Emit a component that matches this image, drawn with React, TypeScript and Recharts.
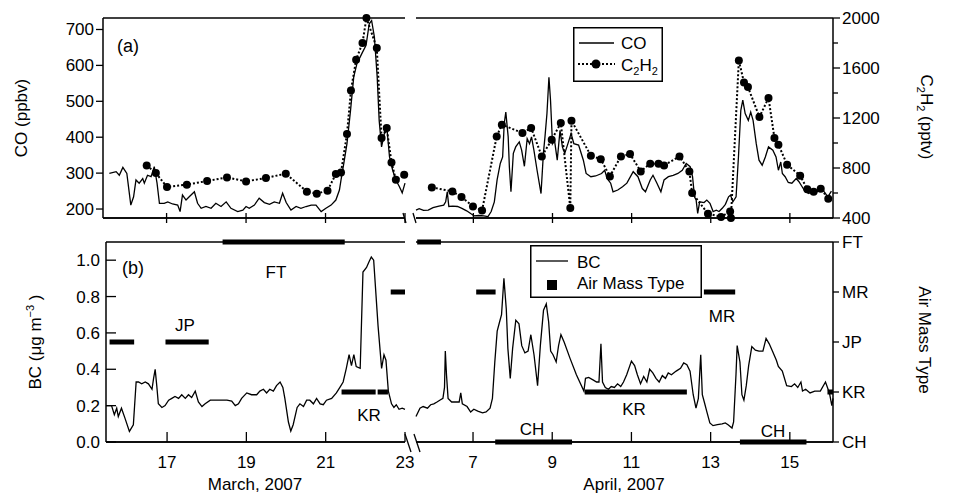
import { ComposedChart, Line, XAxis, YAxis, Legend, CartesianGrid } from 'recharts';

const FONT = '"Liberation Sans", Arial, Helvetica, sans-serif';
const W = 964;
const H = 495;
const ink = '#000';

// ---- (a) CO, ppbv: [day of month, value] ----
const coMarch: [number, number][] = [
  [15.56, 299], [15.73, 304], [15.81, 294], [15.9, 316], [16.0, 299], [16.1, 211], [16.17, 234], [16.23, 281],
  [16.31, 272], [16.4, 285], [16.44, 272], [16.52, 294], [16.61, 290], [16.69, 318], [16.76, 272], [16.82, 216],
  [16.94, 216], [17.03, 220], [17.15, 214], [17.28, 211], [17.34, 193], [17.4, 239], [17.49, 225], [17.57, 234],
  [17.7, 248], [17.78, 216], [17.87, 202], [17.99, 207], [18.12, 202], [18.24, 216], [18.37, 207], [18.5, 220],
  [18.62, 202], [18.79, 193], [18.92, 197], [19.0, 207], [19.08, 202], [19.21, 211], [19.33, 230], [19.46, 218],
  [19.59, 213], [19.71, 220], [19.84, 216], [19.92, 244], [20.01, 218], [20.13, 197], [20.26, 207], [20.38, 202],
  [20.51, 207], [20.64, 211], [20.76, 211], [20.89, 193], [21.01, 202], [21.14, 211], [21.26, 225], [21.35, 253],
  [21.39, 281], [21.46, 327], [21.54, 382], [21.63, 475], [21.71, 568], [21.79, 605], [21.91, 632], [22.02, 656],
  [22.1, 716], [22.16, 725], [22.23, 679], [22.3, 568], [22.35, 447], [22.41, 373], [22.48, 410], [22.55, 419],
  [22.61, 345], [22.69, 308], [22.77, 281], [22.86, 262], [22.93, 245], [23.0, 272],
];

const coApril: [number, number][] = [
  [5.55, 197], [5.63, 201], [5.74, 196], [5.86, 197], [5.98, 204], [6.13, 208], [6.25, 211], [6.3, 220],
  [6.34, 248], [6.38, 207], [6.48, 208], [6.6, 207], [6.71, 202], [6.83, 195], [6.95, 186], [7.02, 181],
  [7.14, 182], [7.26, 181], [7.37, 179], [7.45, 193], [7.53, 220], [7.6, 281], [7.68, 327], [7.74, 345],
  [7.78, 438], [7.82, 470], [7.88, 401], [7.91, 317], [7.95, 248], [8.01, 355], [8.07, 373], [8.16, 387],
  [8.22, 364], [8.29, 319], [8.36, 396], [8.42, 382], [8.47, 401], [8.53, 364], [8.61, 308], [8.71, 243],
  [8.77, 355], [8.81, 401], [8.86, 466], [8.91, 567], [8.95, 503], [9.0, 382], [9.05, 392], [9.12, 336],
  [9.19, 419], [9.25, 373], [9.31, 355], [9.39, 382], [9.47, 410], [9.54, 382], [9.66, 378], [9.78, 336],
  [9.85, 299], [9.97, 290], [10.09, 292], [10.24, 299], [10.32, 308], [10.38, 285], [10.47, 272], [10.53, 248],
  [10.65, 253], [10.77, 262], [10.88, 272], [11.04, 304], [11.16, 290], [11.27, 257], [11.35, 248], [11.47, 281],
  [11.54, 294], [11.64, 272], [11.74, 248], [11.82, 281], [11.93, 290], [12.05, 294], [12.17, 299], [12.28, 308],
  [12.38, 327], [12.48, 318], [12.54, 290], [12.59, 234], [12.63, 225], [12.67, 188], [12.72, 220], [12.83, 218],
  [12.9, 225], [12.98, 216], [13.06, 193], [13.14, 197], [13.21, 193], [13.29, 202], [13.37, 213], [13.45, 234],
  [13.5, 239], [13.56, 220], [13.64, 234], [13.7, 345], [13.76, 475], [13.81, 503], [13.87, 466], [13.95, 447],
  [14.01, 470], [14.07, 447], [14.15, 382], [14.22, 336], [14.3, 322], [14.38, 345], [14.46, 373], [14.57, 364],
  [14.65, 345], [14.71, 308], [14.77, 331], [14.81, 299], [14.88, 290], [14.96, 274], [15.05, 272], [15.16, 285],
  [15.23, 276], [15.31, 262], [15.39, 248], [15.48, 243], [15.56, 250], [15.66, 244], [15.79, 262], [15.87, 248],
  [15.96, 234], [16.05, 250],
];

// ---- (a) C2H2, pptv ----
const c2h2March: [number, number][] = [
  [16.5, 821], [16.73, 760], [17.01, 648], [17.51, 667], [18.02, 696], [18.52, 725], [19.0, 693], [19.5, 720],
  [20.0, 755], [20.53, 611], [20.78, 595], [21.05, 619], [21.26, 752], [21.39, 765], [21.54, 1072], [21.64, 1421],
  [21.77, 1667], [21.93, 1800], [22.03, 2000], [22.29, 1760], [22.41, 1040], [22.54, 1120], [22.66, 845],
  [22.77, 707], [22.98, 747],
];

const c2h2April: [number, number][] = [
  [5.95, 645], [6.47, 613], [6.7, 568], [6.99, 493], [7.22, 461], [7.59, 1053], [7.72, 1147], [8.24, 1080],
  [8.46, 1120], [8.73, 893], [8.98, 1027], [9.21, 1160], [9.45, 480], [9.48, 1179], [9.97, 899], [10.22, 870],
  [10.45, 733], [10.73, 893], [10.96, 912], [11.23, 773], [11.47, 835], [11.68, 835], [11.82, 821], [12.21, 893],
  [12.46, 773], [12.53, 600], [12.93, 435], [13.26, 408], [13.49, 453], [13.51, 400], [13.71, 1661], [13.84, 1485],
  [13.94, 1448], [14.23, 1208], [14.46, 1360], [14.61, 1040], [14.71, 987], [14.93, 827], [15.26, 739],
  [15.44, 630], [15.6, 610], [15.78, 635], [15.97, 555],
];

// ---- (b) BC, ug m-3 ----
const bcMarch: [number, number][] = [
  [15.46, 0.2], [15.6, 0.2], [15.67, 0.15], [15.73, 0.186], [15.77, 0.14], [15.85, 0.186], [15.94, 0.13],
  [16.05, 0.058], [16.15, 0.095], [16.22, 0.33], [16.28, 0.33], [16.36, 0.32], [16.45, 0.33], [16.53, 0.32],
  [16.62, 0.29], [16.66, 0.35], [16.7, 0.4], [16.74, 0.31], [16.78, 0.21], [16.87, 0.19], [16.95, 0.2],
  [17.04, 0.23], [17.12, 0.24], [17.2, 0.25], [17.29, 0.24], [17.37, 0.26], [17.46, 0.24], [17.54, 0.26],
  [17.62, 0.245], [17.71, 0.28], [17.79, 0.22], [17.88, 0.195], [17.96, 0.21], [18.09, 0.23], [18.22, 0.23],
  [18.34, 0.23], [18.51, 0.23], [18.63, 0.225], [18.72, 0.2], [18.8, 0.21], [18.88, 0.24], [19.01, 0.27],
  [19.13, 0.26], [19.26, 0.26], [19.34, 0.28], [19.43, 0.29], [19.51, 0.27], [19.59, 0.29], [19.68, 0.28],
  [19.76, 0.31], [19.85, 0.33], [19.92, 0.3], [19.97, 0.24], [20.06, 0.11], [20.12, 0.06], [20.18, 0.095],
  [20.28, 0.19], [20.35, 0.21], [20.44, 0.195], [20.52, 0.23], [20.6, 0.23], [20.69, 0.21], [20.77, 0.24],
  [20.86, 0.21], [20.94, 0.205], [21.02, 0.23], [21.15, 0.24], [21.27, 0.27], [21.37, 0.305], [21.44, 0.33],
  [21.52, 0.405], [21.59, 0.48], [21.65, 0.42], [21.71, 0.48], [21.77, 0.415], [21.87, 0.405], [21.94, 0.935],
  [22.03, 0.96], [22.09, 0.99], [22.15, 1.017], [22.21, 1.0], [22.32, 0.64], [22.41, 0.405], [22.47, 0.48],
  [22.52, 0.45], [22.58, 0.28], [22.66, 0.21], [22.72, 0.19], [22.78, 0.205], [22.85, 0.18], [22.93, 0.186],
  [23.0, 0.18],
];

const bcApril: [number, number][] = [
  [5.56, 0.14], [5.66, 0.186], [5.74, 0.195], [5.85, 0.186], [5.93, 0.205], [6.01, 0.21], [6.09, 0.22],
  [6.16, 0.23], [6.24, 0.24], [6.28, 0.3], [6.3, 0.5], [6.33, 0.37], [6.37, 0.24], [6.46, 0.22], [6.6, 0.22],
  [6.65, 0.22], [6.69, 0.27], [6.73, 0.21], [6.85, 0.195], [6.94, 0.165], [7.02, 0.18], [7.12, 0.17],
  [7.24, 0.16], [7.33, 0.165], [7.43, 0.186], [7.49, 0.24], [7.55, 0.44], [7.61, 0.61], [7.67, 0.66],
  [7.72, 0.7], [7.78, 0.9], [7.84, 0.73], [7.88, 0.515], [7.94, 0.35], [8.0, 0.515], [8.08, 0.67], [8.16, 0.65],
  [8.23, 0.53], [8.31, 0.49], [8.39, 0.5], [8.46, 0.59], [8.54, 0.48], [8.63, 0.31], [8.7, 0.53], [8.78, 0.725],
  [8.85, 0.76], [8.91, 0.66], [8.96, 0.5], [9.02, 0.48], [9.1, 0.44], [9.16, 0.53], [9.22, 0.59], [9.3, 0.55],
  [9.45, 0.46], [9.61, 0.37], [9.8, 0.28], [9.84, 0.35], [9.92, 0.355], [10.04, 0.34], [10.12, 0.33],
  [10.18, 0.33], [10.23, 0.54], [10.27, 0.33], [10.34, 0.3], [10.42, 0.29], [10.49, 0.305], [10.57, 0.3],
  [10.65, 0.32], [10.73, 0.305], [10.8, 0.33], [10.88, 0.37], [11.0, 0.445], [11.08, 0.42], [11.15, 0.37],
  [11.23, 0.32], [11.31, 0.36], [11.39, 0.33], [11.46, 0.4], [11.54, 0.38], [11.62, 0.35], [11.7, 0.33],
  [11.78, 0.365], [11.86, 0.35], [11.93, 0.38], [12.01, 0.37], [12.13, 0.39], [12.24, 0.405], [12.32, 0.435],
  [12.4, 0.425], [12.48, 0.39], [12.56, 0.26], [12.63, 0.186], [12.69, 0.24], [12.75, 0.48], [12.79, 0.26],
  [12.84, 0.22], [12.9, 0.17], [12.98, 0.105], [13.06, 0.09], [13.17, 0.095], [13.29, 0.1], [13.37, 0.105],
  [13.44, 0.095], [13.54, 0.077], [13.58, 0.11], [13.64, 0.37], [13.67, 0.53], [13.74, 0.44], [13.79, 0.26],
  [13.84, 0.23], [13.9, 0.31], [13.96, 0.42], [14.04, 0.525], [14.13, 0.505], [14.22, 0.5], [14.32, 0.5],
  [14.4, 0.57], [14.48, 0.54], [14.56, 0.5], [14.66, 0.45], [14.71, 0.415], [14.81, 0.39], [14.92, 0.31],
  [15.04, 0.305], [15.12, 0.32], [15.2, 0.3], [15.28, 0.33], [15.32, 0.28], [15.4, 0.29], [15.51, 0.27],
  [15.63, 0.28], [15.77, 0.28], [15.9, 0.33], [16.0, 0.27], [16.06, 0.2], [16.09, 0.24],
];

// ---- (b) air mass type periods: [start day, end day, type] ----
const AIR_TYPES = ['CH', 'KR', 'JP', 'MR', 'FT'];
const airMarch: [number, number, string][] = [
  [18.4, 21.48, 'FT'], [22.64, 23.0, 'MR'], [15.55, 16.17, 'JP'], [16.96, 18.05, 'JP'],
  [21.4, 22.26, 'KR'], [22.31, 22.57, 'KR'],
];
const airApril: [number, number, string][] = [
  [5.59, 6.19, 'FT'], [7.08, 7.57, 'MR'], [12.83, 13.62, 'MR'], [9.82, 12.4, 'KR'], [15.95, 16.09, 'KR'],
  [7.56, 9.5, 'CH'], [13.74, 15.42, 'CH'],
];

const CO_TICKS = [200, 300, 400, 500, 600, 700];
const C2_TICKS = [400, 600, 800, 1000, 1200, 1400, 1600, 1800, 2000];
const BC_TICKS = [0, 0.2, 0.4, 0.6, 0.8, 1.0];
const MARCH_TICKS = [17, 19, 21, 23];
const APRIL_TICKS = [7, 9, 11, 13, 15];

const MARCH_TOP = [15.4, 23];
const MARCH_BOT = [15.48, 23];
const APRIL = [5.56, 16.09];

const rows = (pts: [number, number][]) => pts.map(([d, v]) => ({ d, v }));

const axisLine = { stroke: ink, strokeWidth: 1.5 };
const txt = { fontFamily: FONT, fontSize: 17, fill: ink };

// tick renderers (tickSize/tickMargin are 0, so x/y sit on the axis line)
function CrossTick(p: any) {
  return <line x1={p.x} x2={p.x} y1={p.y - 5} y2={p.y + 5} stroke={ink} strokeWidth={1.3} />;
}
function DayTick(p: any) {
  return (
    <g>
      <line x1={p.x} x2={p.x} y1={p.y - 10} y2={p.y} stroke={ink} strokeWidth={1.3} />
      <text x={p.x} y={p.y + 26} textAnchor="middle" style={txt}>{p.payload.value}</text>
    </g>
  );
}
function CoTick(p: any) {
  return (
    <g>
      <line x1={p.x - 7} x2={p.x} y1={p.y} y2={p.y} stroke={ink} strokeWidth={1.3} />
      <text x={p.x - 9} y={p.y + 6} textAnchor="end" style={txt}>{p.payload.value}</text>
    </g>
  );
}
function BcTick(p: any) {
  return (
    <g>
      <line x1={p.x} x2={p.x + 10} y1={p.y} y2={p.y} stroke={ink} strokeWidth={1.3} />
      <text x={p.x - 6} y={p.y + 6} textAnchor="end" style={txt}>{Number(p.payload.value).toFixed(1)}</text>
    </g>
  );
}
function C2Tick(p: any) {
  const major = p.payload.value % 400 === 0;
  return (
    <g>
      <line x1={p.x} x2={p.x + (major ? 7 : 5)} y1={p.y} y2={p.y} stroke={ink} strokeWidth={1.3} />
      {major && <text x={p.x + 9} y={p.y + 6} style={txt}>{p.payload.value}</text>}
    </g>
  );
}
function AirTick(p: any) {
  return (
    <g>
      <line x1={p.x} x2={p.x + 6} y1={p.y} y2={p.y} stroke={ink} strokeWidth={1.3} />
      <text x={p.x + 9} y={p.y + 6} style={txt}>{AIR_TYPES[p.payload.value]}</text>
    </g>
  );
}

function CoLegend() {
  return (
    <svg width={90} height={55} style={{ display: 'block' }}>
      <rect x={0.75} y={0.75} width={88.5} height={53.5} fill="#fff" stroke={ink} strokeWidth={1.5} />
      <line x1={6} x2={41} y1={16} y2={16} stroke={ink} strokeWidth={1.3} />
      <text x={48} y={22} style={txt}>CO</text>
      <line x1={5} x2={42} y1={37} y2={37} stroke={ink} strokeWidth={2} strokeDasharray="2 2" />
      <circle cx={23} cy={37} r={4.5} fill={ink} />
      <text x={48} y={44} style={txt}>
        C<tspan dy={4} fontSize={11}>2</tspan><tspan dy={-4}>H</tspan><tspan dy={4} fontSize={11}>2</tspan>
      </text>
    </svg>
  );
}

function BcLegend() {
  return (
    <svg width={172} height={53} style={{ display: 'block' }}>
      <rect x={0.75} y={0.75} width={170.5} height={51.5} fill="#fff" stroke={ink} strokeWidth={1.5} />
      <line x1={6} x2={38} y1={16} y2={16} stroke={ink} strokeWidth={1.3} />
      <text x={47} y={23} style={txt}>BC</text>
      <rect x={17} y={35} width={10} height={10} fill={ink} />
      <text x={47} y={44} style={txt}>Air Mass Type</text>
    </svg>
  );
}

const thin = { stroke: ink, strokeWidth: 1.3, dot: false, isAnimationActive: false } as const;
const dotted = {
  stroke: ink, strokeWidth: 2, strokeDasharray: '2 2',
  dot: { r: 4, fill: ink, stroke: 'none' }, isAnimationActive: false,
} as const;

// each air-mass period is a thick two-point line at its type level
function airBars(list: [number, number, string][]) {
  return list.map(([a, b, t], i) => {
    const lvl = AIR_TYPES.indexOf(t);
    return (
      <Line
        key={`air${i}`}
        xAxisId="d"
        yAxisId="air"
        data={[{ d: a, v: lvl }, { d: b, v: lvl }]}
        dataKey="v"
        stroke={ink}
        strokeWidth={5}
        dot={false}
        isAnimationActive={false}
      />
    );
  });
}

// top and bottom edges of the plot box
const frameRows = ({ offset }: any) => [offset.top, offset.top + offset.height];
function frame(yId: string) {
  return (
    <CartesianGrid xAxisId="d" yAxisId={yId} vertical={false} horizontalCoordinatesGenerator={frameRows}
      stroke={ink} strokeWidth={1.5} strokeDasharray="0" />
  );
}

const layer: React.CSSProperties = { position: 'absolute', left: 0, top: 0 };

export default function App() {
  return (
    <div style={{ position: 'absolute', left: 0, top: 0, width: W, height: H, background: '#fff', fontFamily: FONT }}>
      {/* (a) March */}
      <div style={layer}>
        <ComposedChart width={W} height={H} margin={{ top: 18, right: W - 405, bottom: H - 219, left: 103 - 60 }}>
          {frame('co')}
          <XAxis xAxisId="d" type="number" dataKey="d" domain={MARCH_TOP} ticks={MARCH_TICKS} interval={0}
            height={1} tickSize={0} tickMargin={0} tickLine={false} tick={CrossTick} axisLine={axisLine} />
          <YAxis yAxisId="co" domain={[175, 732]} ticks={CO_TICKS} interval={0} width={60}
            tickSize={0} tickMargin={0} tickLine={false} tick={CoTick} axisLine={axisLine} />
          <YAxis yAxisId="c2" orientation="right" domain={[400, 2000]} hide />
          <Line xAxisId="d" yAxisId="co" data={rows(coMarch)} dataKey="v" {...thin} />
          <Line xAxisId="d" yAxisId="c2" data={rows(c2h2March)} dataKey="v" {...dotted} />
        </ComposedChart>
      </div>

      {/* (a) April */}
      <div style={layer}>
        <ComposedChart width={W} height={H} margin={{ top: 18, right: W - 833 - 60, bottom: H - 219, left: 416 }}>
          {frame('co')}
          <XAxis xAxisId="d" type="number" dataKey="d" domain={APRIL} ticks={APRIL_TICKS} interval={0}
            height={1} tickSize={0} tickMargin={0} tickLine={false} tick={CrossTick} axisLine={axisLine} />
          <YAxis yAxisId="co" domain={[175, 732]} hide />
          <YAxis yAxisId="c2" orientation="right" domain={[400, 2000]} ticks={C2_TICKS} interval={0} width={60}
            tickSize={0} tickMargin={0} tickLine={false} tick={C2Tick} axisLine={axisLine} />
          <Line xAxisId="d" yAxisId="co" data={rows(coApril)} dataKey="v" name="CO" {...thin} />
          <Line xAxisId="d" yAxisId="c2" data={rows(c2h2April)} dataKey="v" name="C2H2" {...dotted} />
          <Legend layout="horizontal" align="center" verticalAlign="middle" content={CoLegend}
            wrapperStyle={{ left: 573, top: 27, width: 90, height: 55 }} />
        </ComposedChart>
      </div>

      {/* (b) March */}
      <div style={layer}>
        <ComposedChart width={W} height={H} margin={{ top: 242, right: W - 405, bottom: H - 443, left: 106 - 60 }}>
          {frame('bc')}
          <XAxis xAxisId="d" type="number" dataKey="d" domain={MARCH_BOT} ticks={MARCH_TICKS} interval={0}
            height={1} tickSize={0} tickMargin={0} tickLine={false} tick={DayTick} axisLine={axisLine} />
          <YAxis yAxisId="bc" domain={[0, 1.1]} ticks={BC_TICKS} interval={0} width={60}
            tickSize={0} tickMargin={0} tickLine={false} tick={BcTick} axisLine={axisLine} />
          <YAxis yAxisId="air" orientation="right" domain={[0, 4]} hide />
          <Line xAxisId="d" yAxisId="bc" data={rows(bcMarch)} dataKey="v" {...thin} />
          {airBars(airMarch)}
        </ComposedChart>
      </div>

      {/* (b) April */}
      <div style={layer}>
        <ComposedChart width={W} height={H} margin={{ top: 242, right: W - 833 - 60, bottom: H - 443, left: 416 }}>
          {frame('bc')}
          <XAxis xAxisId="d" type="number" dataKey="d" domain={APRIL} ticks={APRIL_TICKS} interval={0}
            height={1} tickSize={0} tickMargin={0} tickLine={false} tick={DayTick} axisLine={axisLine} />
          <YAxis yAxisId="bc" domain={[0, 1.1]} hide />
          <YAxis yAxisId="air" orientation="right" domain={[0, 4]} ticks={[0, 1, 2, 3, 4]} interval={0} width={60}
            tickSize={0} tickMargin={0} tickLine={false} tick={AirTick} axisLine={axisLine} />
          <Line xAxisId="d" yAxisId="bc" data={rows(bcApril)} dataKey="v" name="BC" {...thin} />
          {airBars(airApril)}
          <Legend layout="horizontal" align="center" verticalAlign="middle" content={BcLegend}
            wrapperStyle={{ left: 530, top: 245, width: 172, height: 53 }} />
        </ComposedChart>
      </div>

      {/* titles, panel tags, air-mass annotations, axis breaks */}
      <svg width={W} height={H} style={{ ...layer, pointerEvents: 'none' }}>
        <g style={txt}>
          <text x={117} y={52} fontSize={18}>(a)</text>
          <text x={122} y={274} fontSize={18}>(b)</text>
          <text x={276} y={278} textAnchor="middle">FT</text>
          <text x={185} y={331} textAnchor="middle">JP</text>
          <text x={369} y={421} textAnchor="middle">KR</text>
          <text x={532} y={435} textAnchor="middle">CH</text>
          <text x={634} y={415} textAnchor="middle">KR</text>
          <text x={722} y={322} textAnchor="middle">MR</text>
          <text x={773} y={437} textAnchor="middle">CH</text>
          <text x={255} y={490} textAnchor="middle">March, 2007</text>
          <text x={624} y={490} textAnchor="middle">April, 2007</text>
          <text transform="translate(27,118) rotate(-90)" textAnchor="middle">CO (ppbv)</text>
          <text transform="translate(41,342) rotate(-90)" textAnchor="middle">
            BC  (μg m<tspan dy={-7} fontSize={11}>−3</tspan><tspan dy={7}> )</tspan>
          </text>
          <text transform="translate(921,117) rotate(90)" textAnchor="middle">
            C<tspan dy={4} fontSize={11}>2</tspan><tspan dy={-4}>H</tspan><tspan dy={4} fontSize={11}>2</tspan>
            <tspan dy={-4}> (pptv)</tspan>
          </text>
          <text transform="translate(919,340) rotate(90)" textAnchor="middle">Air Mass Type</text>
        </g>
        <g stroke={ink} strokeWidth={1.3}>
          <line x1={403} y1={213} x2={406} y2={223} />
          <line x1={413} y1={213} x2={416} y2={223} />
          <line x1={405} y1={434} x2={411} y2={452} />
          <line x1={414} y1={434} x2={420} y2={452} />
        </g>
      </svg>
    </div>
  );
}
